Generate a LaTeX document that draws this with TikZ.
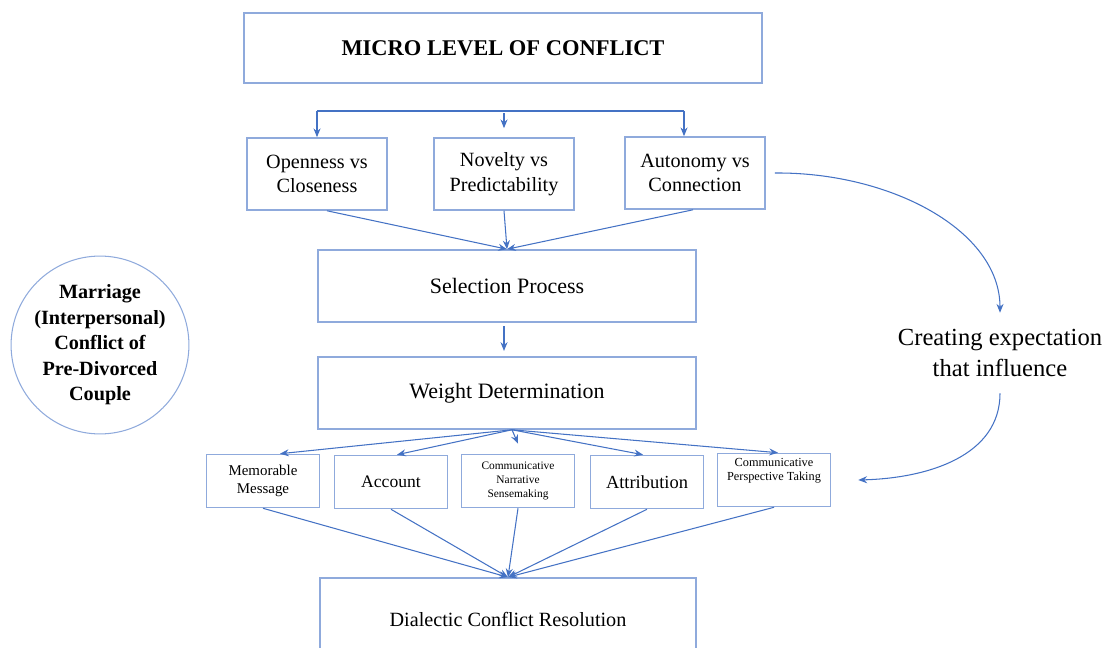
\documentclass[tikz,border=0pt]{standalone}
\usepackage{fontspec}
\setmainfont{Liberation Serif}
\usepackage{xcolor}
\usepackage{tikz}
\usetikzlibrary{arrows.meta}

\definecolor{boxblue}{RGB}{143,170,220}
\definecolor{arrblue}{RGB}{68,114,196}

\begin{document}
\begin{tikzpicture}[
  x=0.02cm,y=-0.02cm,
  box/.style={draw=boxblue,line width=0.9pt,inner sep=1pt,align=center},
  level/.style={box,minimum width=2.8cm,minimum height=1.44cm,font=\fontsize{11.5}{14}\selectfont},
  stagebox/.style={box,minimum width=7.56cm,minimum height=1.44cm,font=\fontsize{12.5}{15}\selectfont},
  small/.style={box,minimum width=2.26cm,minimum height=1.06cm},
  arr/.style={-{Stealth[length=5pt,width=4pt]},draw=arrblue,line width=0.6pt}
]
  \useasboundingbox (0,0) rectangle (1111,648);

  % Top
  \node[box,minimum width=10.36cm,minimum height=1.4cm,font=\fontsize{12.8}{16}\selectfont\bfseries] (micro) at (503,48) {MICRO LEVEL OF CONFLICT};

  % Dialectics
  \node[level] (open) at (317,174) {Openness vs\\Closeness};
  \node[level] (novel) at (504,174) {Novelty vs\\Predictability};
  \node[level] (auton) at (695,173) {Autonomy vs\\Connection};

  % Stages
  \node[stagebox] (select) at (507,286) {Selection Process};
  \node[stagebox] (weight) at (507,393) {Weight Determination};

  % Strategies
  \node[small,font=\fontsize{8.5}{10.5}\selectfont] (memo) at (263,481) {Memorable\\Message};
  \node[small,font=\fontsize{10}{13}\selectfont] (acct) at (391,482) {Account};
  \node[small,font=\fontsize{6.5}{8}\selectfont] (narr) at (518,481) {Communicative\\Narrative\\Sensemaking};
  \node[small,font=\fontsize{10.5}{13}\selectfont] (attr) at (647,482) {Attribution};
  \node[small,font=\fontsize{7}{8}\selectfont,text depth=12pt] (persp) at (774,480) {Communicative\\Perspective Taking};

  % Resolution
  \node[box,minimum width=7.52cm,minimum height=1.64cm,font=\fontsize{11.5}{14}\selectfont] (resol) at (508,619) {Dialectic Conflict Resolution};

  % Side texts
  \node[draw=boxblue,line width=0.6pt,circle,minimum size=3.55cm,inner sep=0pt,align=center,font=\fontsize{11.5}{14.5}\selectfont\bfseries] (couple) at (100,345) {Marriage\\(Interpersonal)\\Conflict of\\Pre-Divorced\\Couple};
  \node[align=center,font=\fontsize{14}{18}\selectfont] (expect) at (1000,353) {Creating expectation\\that influence};

  % Arrows
  \coordinate (brL) at (open.north |- 0,111);
  \coordinate (brR) at ([xshift=-0.22cm]auton.north |- 0,111);
  \coordinate (brM) at ([yshift=0.48cm]novel.north);
  \draw[draw=arrblue,line width=0.6pt] (brL) -- (brR);
  \draw[arr] (brL) -- (open.north);
  \draw[arr] (brR) -- (brR |- auton.north);
  \draw[arr] (brM) -- ([yshift=0.18cm]novel.north);

  \draw[arr] ([xshift=0.2cm]open.south) -- (select.north);
  \draw[arr] (novel.south) -- (select.north);
  \draw[arr] ([xshift=-0.04cm]auton.south) -- (select.north);

  \draw[arr,shorten <=2pt,shorten >=3pt] ([xshift=-0.06cm]select.south) -- ([xshift=-0.06cm]weight.north);

  \coordinate (wsrc) at ([xshift=0.1cm]weight.south);
  \draw[arr] (wsrc) -- ([xshift=0.34cm]memo.north);
  \draw[arr] (wsrc) -- ([xshift=0.12cm]acct.north);
  \draw[arr] (wsrc) -- ([yshift=0.2cm]narr.north);
  \draw[arr] (wsrc) -- ([xshift=-0.08cm]attr.north);
  \draw[arr] (wsrc) -- ([xshift=0.08cm]persp.north);

  \foreach \src in {memo,acct,narr,attr,persp}
    \draw[arr] (\src.south) -- (resol.north);

  \draw[arr] ([xshift=0.18cm]auton.east) .. controls (890,172) and (1000,230) .. ([yshift=0.2cm]expect.north);
  \draw[arr] ([yshift=-0.2cm]expect.south) .. controls (1000,455) and (930,478) .. ([xshift=0.54cm]persp.east);
\end{tikzpicture}
\end{document}
